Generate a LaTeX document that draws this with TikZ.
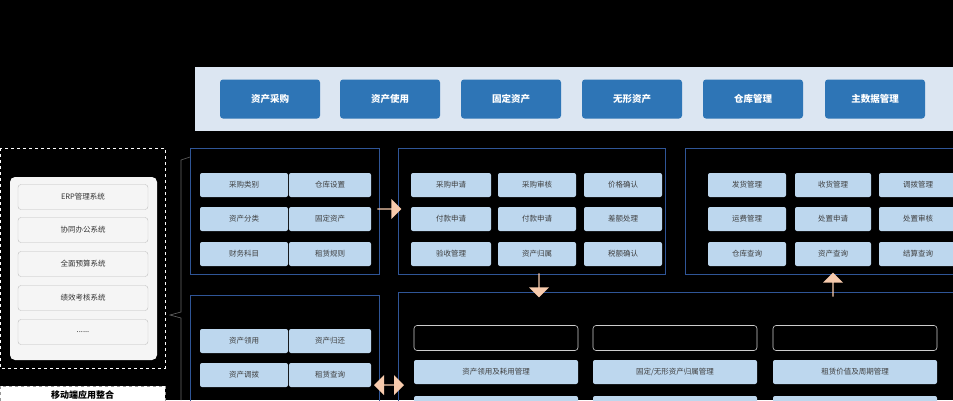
\documentclass[tikz,border=0pt]{standalone}
\usepackage{fontspec}
\setmainfont{Noto Sans CJK SC}
\usetikzlibrary{positioning}
\usetikzlibrary{shapes.arrows}
\definecolor{darkblue}{RGB}{46,117,182}
\definecolor{lineblue}{RGB}{47,85,151}
\definecolor{cellblue}{RGB}{189,215,238}
\definecolor{banner}{RGB}{220,230,242}
\definecolor{peach}{RGB}{248,203,173}
\tikzset{
  module/.style={rounded corners=3pt,fill=darkblue,text=white,font=\bfseries\fontsize{9.5}{11}\selectfont,minimum width=100pt,minimum height=39pt},
  cell/.style={rounded corners=2pt,fill=cellblue,text=black!75,font=\fontsize{7.5}{9}\selectfont,minimum height=24pt},
  frame/.style={draw=lineblue,line width=0.6pt},
  sysbox/.style={rounded corners=3pt,draw=black!25,fill=black!4,text=black!80,font=\fontsize{7.5}{9}\selectfont,minimum width=130pt,minimum height=25pt},
  blank/.style={rounded corners=3pt,draw=white!80!black,line width=0.6pt,minimum width=164pt,minimum height=25pt},
  bigarrow/.style={single arrow,fill=peach,minimum height=24pt,minimum width=20pt,single arrow head extend=3pt,inner sep=0pt},
}
\begin{document}
\begin{tikzpicture}[x=1pt,y=-1pt]
  \fill[black] (0,0) rectangle (953,400);
  \useasboundingbox (0,0) rectangle (953,400);
  %BANNER
  \fill[banner] (195,67) rectangle (953,131);
  \foreach \x/\t [count=\i] in {270/资产采购,390/资产使用,511/固定资产,632/无形资产,753/仓库管理,875/主数据管理}{
    \node[module] (m\i) at (\x,99) {\t};
  }
  %FRAMES
  \draw[frame] (190,148) rectangle (379,274);
  \draw[frame] (398,148) rectangle (665,274);
  \draw[frame] (685,148) rectangle (953,274);
  \draw[frame] (190,295) rectangle (379,405);
  \draw[frame] (398,292) rectangle (953,405);
  %FRAME A
  \foreach \r/\a/\b [count=\i] in {185/采购类别/仓库设置,219/资产分类/固定资产,254/财务科目/租赁规则}{
    \node[cell,minimum width=88pt] (a\i) at (244,\r) {\a};
    \node[cell,minimum width=82pt] (b\i) at (330,\r) {\b};
  }
  %FRAME B
  \foreach \r/\a/\b/\c [count=\i] in {185/采购申请/采购审核/价格确认,219/付款申请/付款申请/差额处理,254/验收管理/资产归属/税额确认}{
    \node[cell,minimum width=80pt] (c\i) at (451,\r) {\a};
    \node[cell,minimum width=78pt] (d\i) at (537,\r) {\b};
    \node[cell,minimum width=78pt] (e\i) at (623,\r) {\c};
  }
  %FRAME C
  \foreach \r/\a/\b/\c [count=\i] in {185/发货管理/收货管理/调拨管理,219/运费管理/处置申请/处置审核,254/仓库查询/资产查询/结算查询}{
    \node[cell,minimum width=78pt] (f\i) at (747,\r) {\a};
    \node[cell,minimum width=76pt] (g\i) at (833,\r) {\b};
    \node[cell,minimum width=78pt] (h\i) at (918,\r) {\c};
  }
  %FRAME D
  \node[cell,minimum width=88pt] (p1) at (244,341) {资产领用};
  \node[cell,minimum width=82pt] (q1) at (330,341) {资产归还};
  \node[cell,minimum width=88pt] (p2) at (244,375) {资产调拨};
  \node[cell,minimum width=82pt] (q2) at (330,375) {租赁查询};
  %FRAME E
  \foreach \x/\t [count=\i] in {496/{资产领用及耗用管理},675/{固定/无形资产归属管理},855/{租赁价值及周期管理}}{
    \node[blank] (k\i) at (\x,338) {};
    \node[cell,minimum width=164pt] (n\i) at (\x,372) {\t};
    \node[cell,minimum width=164pt] (o\i) at (\x,408) {};
  }
  %SYSTEMS
  \draw[white,dashed,line width=0.6pt] (0,148) rectangle (165,368);
  \fill[white!96!black,rounded corners=5pt] (10,177) rectangle (157,360);
  \node[sysbox] (s1) at (83,197) {ERP管理系统};
  \node[sysbox] (s2) at (83,230) {协同办公系统};
  \node[sysbox] (s3) at (83,264) {全面预算系统};
  \node[sysbox] (s4) at (83,298) {绩效考核系统};
  \node[sysbox] (s5) at (83,332) {......};
  \node[draw=black!40,dashed,fill=white,font=\bfseries\fontsize{9}{11}\selectfont,minimum width=165pt,minimum height=24pt,anchor=north west,inner sep=0pt,text depth=8pt] (mob) at (0,386) {移动端应用整合};
  %BRACE
  \draw[black!60,line width=0.6pt] (190,157) -- (181,160) -- (181,312) -- (170,315) -- (181,318) -- (181,400);
  %ARROWS
  \node[bigarrow] (ab) at (389,209) {};
  \node[bigarrow,rotate=-90] (be) at (539,285) {};
  \node[bigarrow,rotate=90] (ec) at (833,285) {};
  \node[double arrow,fill=peach,minimum height=30pt,minimum width=20pt,double arrow head extend=3pt,inner sep=0pt] (de) at (389,385) {};
\end{tikzpicture}
\end{document}
